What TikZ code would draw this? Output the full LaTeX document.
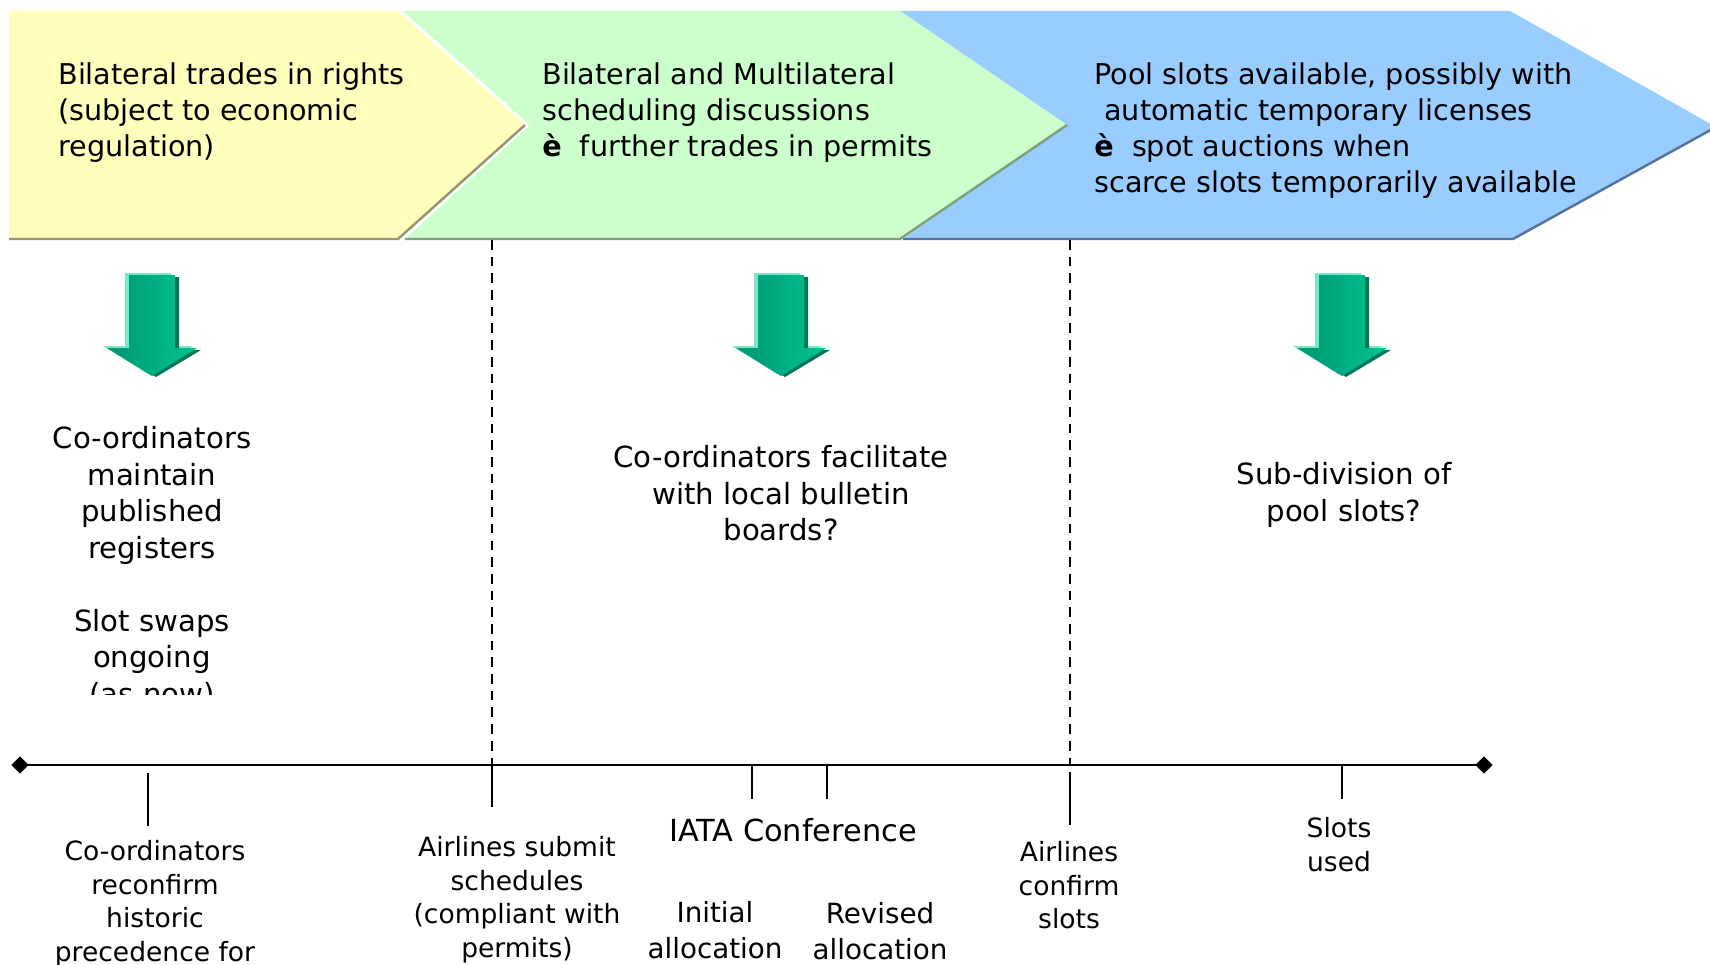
\documentclass[tikz,border=0pt]{standalone}
\usepackage{fontspec}
\setmainfont{DejaVu Sans}
\usetikzlibrary{positioning,shapes.geometric}

\definecolor{chevyellow}{RGB}{255,255,187}
\definecolor{chevgreen}{RGB}{204,255,204}
\definecolor{chevblue}{RGB}{153,204,255}
\definecolor{yedge}{RGB}{150,150,115}
\definecolor{gedge}{RGB}{125,160,125}
\definecolor{bedge}{RGB}{85,115,155}
\definecolor{arrlight}{RGB}{120,232,200}
\definecolor{arrdark}{RGB}{0,118,88}
\definecolor{arrleft}{RGB}{0,150,112}
\definecolor{arrright}{RGB}{0,196,145}

\tikzset{
  bigtxt/.style={font=\fontsize{15.8}{20.6}\selectfont,inner sep=0pt},
  smalltxt/.style={font=\fontsize{15.1}{19.1}\selectfont,inner sep=0pt,align=center,anchor=north},
  chevtxt/.style={inner sep=0pt,align=left,anchor=north west,font=\fontsize{16.3}{20.6}\selectfont},
  coltxt/.style={inner sep=0pt,align=center,anchor=north,font=\fontsize{16.6}{20.8}\selectfont},
  phasedash/.style={dash pattern=on 5.5pt off 4pt,line width=0.9pt},
  tickline/.style={line width=0.9pt},
  axisline/.style={line width=1.3pt},
  marker/.style={diamond,fill=black,inner sep=0pt,minimum size=10pt}
}

\begin{document}
\begin{tikzpicture}[x=0.2mm,y=-0.2mm]
\useasboundingbox (0,0) rectangle (1710,964);
\clip (0,0) rectangle (1710,964);

% phase chevrons
\fill[chevblue] (900,11) -- (1510,11) -- (1716,127) -- (1513,239) -- (903,239) -- (1067,125) -- cycle;
\draw[bedge,line width=1.4pt] (903,239) -- (1513,239) -- (1716,127);
\fill[chevgreen] (403,11) -- (900,11) -- (1067,125) -- (900,239) -- (405,239) -- (530,125) -- cycle;
\draw[gedge,line width=1.4pt] (405,239) -- (900,239) -- (1067,125);
\fill[chevyellow] (9,11) -- (398,11) -- (525,125) -- (398,239) -- (9,239) -- cycle;
\draw[yedge,line width=1.4pt] (9,239) -- (398,239) -- (525,125);

\node[chevtxt] (ph1) at (58,62) {Bilateral trades in rights\\(subject to economic\\regulation)};
\node[chevtxt] (ph2) at (542,62) {Bilateral and Multilateral\\scheduling discussions\\\textbf{è}\ \ further trades in permits};
\node[chevtxt] (ph3) at (1094,62) {Pool slots available, possibly with\\\hspace*{0.35em}automatic temporary licenses\\\textbf{è}\ \ spot auctions when\\scarce slots temporarily available};

% down arrows
\foreach \cx in {152,781,1342}{
  \begin{scope}[shift={(\cx,0)}]
    \fill[arrlight] (-27,273) -- (19,273) -- (19,346) -- (41,346) -- (-4,374) -- (-49,346) -- (-27,346) -- cycle;
    \fill[arrdark] (-19,277) -- (27,277) -- (27,350) -- (49,350) -- (4,377) -- (-41,350) -- (-19,350) -- cycle;
    \shade[left color=arrleft,right color=arrright] (-23,275) -- (23,275) -- (23,348) -- (45,348) -- (0,376) -- (-45,348) -- (-23,348) -- cycle;
  \end{scope}
}

\begin{scope}
  \clip (0,250) rectangle (330,694);
  \node[coltxt] (keep) at (152,426) {Co-ordinators\\maintain\\published\\registers\\[20.8pt]Slot swaps\\ongoing\\(as now)};
\end{scope}
\node[coltxt] (board) at (781,445) {Co-ordinators facilitate\\with local bulletin\\boards?};
\node[coltxt] (pool) at (1344,462) {Sub-division of\\pool slots?};

% time line
\node[marker] (tl0) at (20,765) {};
\node[marker] (tl1) at (1484,765) {};
\draw[axisline] (tl0.center) -- (tl1.center);
\coordinate (sub) at (492,765);
\coordinate (conf) at (1070,765);
\draw[phasedash] (492,240) -- (sub);
\draw[phasedash] (1070,240) -- (conf);
\foreach \tx/\ta/\tb in {148/773/826,492/765/807,752/765/799,827/765/799,1070/772/825,1342/765/799}
  \draw[tickline] (\tx,\ta) -- (\tx,\tb);

\node[smalltxt] (recon) at (155,840) {Co-ordinators\\reconfirm\\historic\\precedence for};
\node[smalltxt] (submit) at (517,836) {Airlines submit\\schedules\\(compliant with\\permits)};
\node[inner sep=0pt,anchor=north,font=\fontsize{17.3}{21}\selectfont] (iata) at (793,818) {IATA Conference};
\node[bigtxt,align=center,anchor=north] (init) at (715,901) {Initial\\allocation};
\node[bigtxt,align=center,anchor=north] (revis) at (880,902) {Revised\\allocation};
\node[smalltxt] (confirm) at (1069,841) {Airlines\\confirm\\slots};
\node[smalltxt] (used) at (1339,817) {Slots\\used};
\end{tikzpicture}
\end{document}
